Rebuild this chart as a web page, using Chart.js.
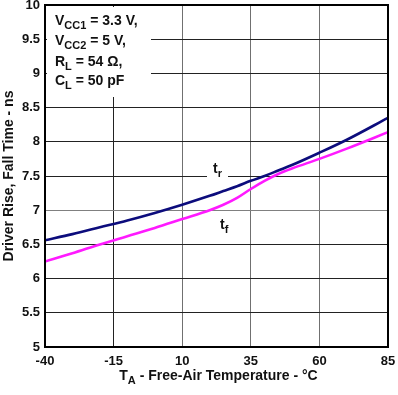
<!DOCTYPE html>
<html>
<head>
<meta charset="utf-8">
<script src="https://cdn.jsdelivr.net/npm/chart.js@4"></script>
<style>
  body { margin: 0; background: #fff; }
  #wrap { width: 398px; height: 395px; }
</style>
</head>
<body>
<div id="wrap"><canvas id="riseFallChart" width="398" height="395"></canvas></div>
<script>
// free-air temperature, deg C
const temps    = [-40, -30, -20, -10, 0, 10, 20, 25, 30, 35, 40, 45, 50, 60, 70, 85];
// driver rise / fall time, ns
const riseTime = [6.56, 6.65, 6.75, 6.85, 6.96, 7.08, 7.21, 7.28, 7.35, 7.43, 7.50, 7.58, 7.66, 7.84, 8.03, 8.35];
const fallTime = [6.25, 6.37, 6.50, 6.62, 6.74, 6.87, 7.00, 7.08, 7.18, 7.31, 7.43, 7.53, 7.61, 7.75, 7.90, 8.14];

const xTicks = [-40, -15, 10, 35, 60, 85];
const yMin = 5, yMax = 10, yStep = 0.5;

const conditions = [
    [{ t: 'V' }, { t: 'CC1', sub: true }, { t: ' = 3.3 V,' }],
    [{ t: 'V' }, { t: 'CC2', sub: true }, { t: ' = 5 V,' }],
    [{ t: 'R' }, { t: 'L', sub: true }, { t: ' = 54 \u03A9,' }],
    [{ t: 'C' }, { t: 'L', sub: true }, { t: ' = 50 pF' }]
];

const FONT = '"Liberation Sans", Arial, sans-serif';

function toPoints(ys) {
    return temps.map((t, i) => ({ x: t, y: ys[i] }));
}

// draws text with subscripts, returns total width
function drawParts(ctx, parts, x, y, size, measureOnly) {
    let cx = x;
    for (const p of parts) {
        const s = p.sub ? Math.round(size * 0.75) : size;
        ctx.font = 'bold ' + s + 'px ' + FONT;
        if (!measureOnly) ctx.fillText(p.t, cx, p.sub ? y + 4 : y);
        cx += ctx.measureText(p.t).width;
    }
    return cx - x;
}

const labelsPlugin = {
    id: 'labels',
    beforeDatasetsDraw(chart) {
        const ctx = chart.ctx;
        const area = chart.chartArea;
        ctx.save();
        ctx.fillStyle = '#fff';
        ctx.fillRect(area.left + 2, area.top + 2, 104, 90);
        ctx.fillRect(207, 160, 21, 20);
        ctx.restore();
    },
    afterDraw(chart) {
        const ctx = chart.ctx;
        const area = chart.chartArea;
        ctx.save();

        // plot frame
        ctx.strokeStyle = '#000';
        ctx.lineWidth = 2;
        ctx.strokeRect(area.left, area.top, area.right - area.left, area.bottom - area.top);

        ctx.fillStyle = '#111';
        ctx.textAlign = 'left';
        ctx.textBaseline = 'alphabetic';

        // test conditions
        const baselines = [25, 45, 66, 85];
        conditions.forEach((line, i) => drawParts(ctx, line, 55, baselines[i], 14));

        // curve labels
        drawParts(ctx, [{ t: 't' }, { t: 'r', sub: true }], 213, 173, 14);
        drawParts(ctx, [{ t: 't' }, { t: 'f', sub: true }], 220, 229, 14);

        // x axis title
        const xTitle = [{ t: 'T' }, { t: 'A', sub: true }, { t: ' - Free-Air Temperature - \u00B0C' }];
        const w = drawParts(ctx, xTitle, 0, 0, 14, true);
        drawParts(ctx, xTitle, (area.left + area.right) / 2 - w / 2 + 2, 380, 14);

        // y axis title
        ctx.translate(13, (area.top + area.bottom) / 2);
        ctx.rotate(-Math.PI / 2);
        ctx.font = 'bold 14px ' + FONT;
        ctx.textAlign = 'center';
        ctx.fillText('Driver Rise, Fall Time - ns', 0, 0);

        ctx.restore();
    }
};

new Chart(document.getElementById('riseFallChart').getContext('2d'), {
    type: 'line',
    data: {
        datasets: [{
            label: 'tr',
            data: toPoints(riseTime),
            borderColor: '#0c0c7c',
            borderWidth: 2.6,
            pointRadius: 0,
            cubicInterpolationMode: 'monotone'
        }, {
            label: 'tf',
            data: toPoints(fallTime),
            borderColor: '#ff1aff',
            borderWidth: 2.6,
            pointRadius: 0,
            cubicInterpolationMode: 'monotone'
        }]
    },
    options: {
        responsive: false,
        animation: false,
        devicePixelRatio: 1,
        layout: { padding: { top: 5, right: 10, left: 0, bottom: 0 } },
        plugins: {
            legend: { display: false },
            tooltip: { enabled: false }
        },
        scales: {
            x: {
                type: 'linear',
                min: -40,
                max: 85,
                afterBuildTicks: (scale) => {
                    scale.ticks = xTicks.map(v => ({ value: v }));
                },
                afterFit: (scale) => {
                    scale.height = 48;
                    scale.paddingLeft = 0;
                    scale.paddingRight = 0;
                },
                ticks: {
                    color: '#111',
                    font: { family: FONT, size: 13, weight: 'bold' },
                    padding: 7,
                    maxRotation: 0
                },
                grid: {
                    color: (c) => c.tick && c.tick.value === -15 ? '#222' : '#707070',
                    lineWidth: 1,
                    drawTicks: false
                },
                border: { display: false }
            },
            y: {
                min: yMin,
                max: yMax,
                afterFit: (scale) => {
                    scale.width = 45;
                    scale.paddingTop = 0;
                    scale.paddingBottom = 0;
                },
                ticks: {
                    stepSize: yStep,
                    color: '#111',
                    font: { family: FONT, size: 13, weight: 'bold' },
                    padding: 5,
                    callback: (v) => String(v)
                },
                grid: {
                    color: (c) => c.tick && c.tick.value === 7 ? '#808080' : '#222',
                    lineWidth: 1,
                    drawTicks: false
                },
                border: { display: false }
            }
        }
    },
    plugins: [labelsPlugin]
});
</script>
</body>
</html>
